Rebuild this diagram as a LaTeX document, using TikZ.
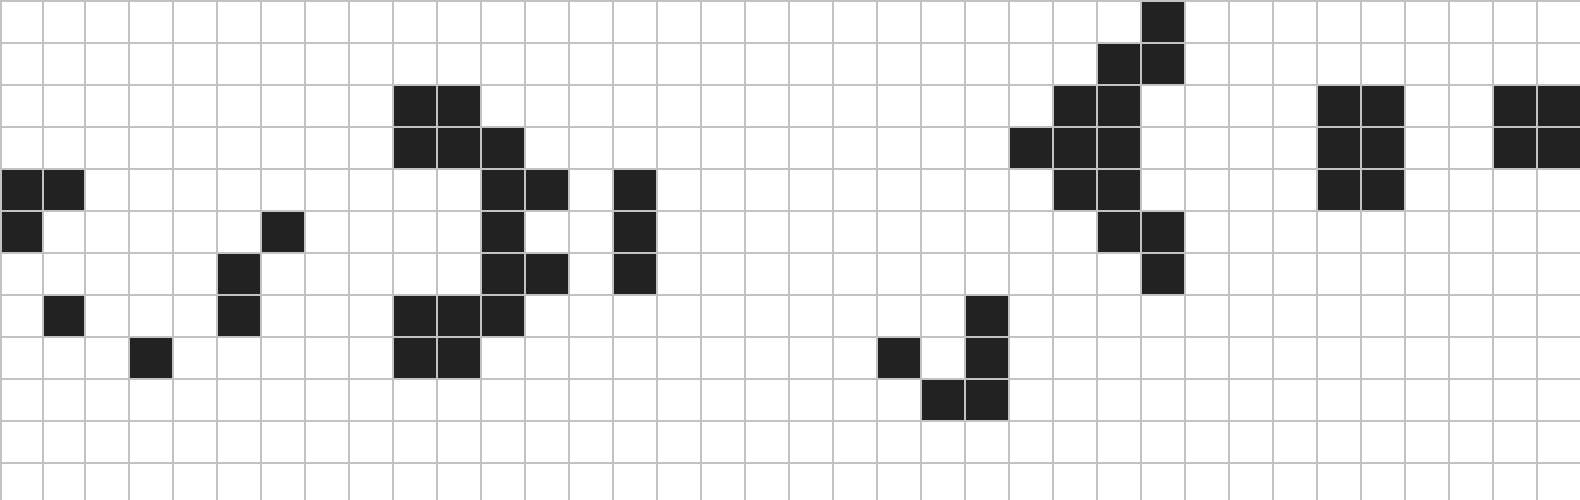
\documentclass[tikz,border=0pt]{standalone}
\usepackage{xcolor}
\usepackage{tikz}

\definecolor{gridline}{HTML}{C2C2C2}
\definecolor{livecell}{HTML}{222222}

\begin{document}
\begin{tikzpicture}[x=0.02cm, y=-0.02cm,
    gridstroke/.style={draw=gridline, line width=1.05pt},
    alive/.style={fill=livecell}]
    \useasboundingbox (0,0) rectangle (1580,500);
    \fill[white] (0,0) rectangle (1580,500);

    % live cells, row / columns
    \foreach \r/\cols in {0/{26}, 1/{25,26}, 2/{9,10,24,25,30,31,34,35},
        3/{9,10,11,23,24,25,30,31,34,35}, 4/{0,1,11,12,14,24,25,30,31},
        5/{0,6,11,14,25,26}, 6/{5,11,12,14,26}, 7/{1,5,9,10,11,22},
        8/{3,9,10,20,22}, 9/{21,22}} {
        \foreach \c in \cols {
            \pgfmathsetmacro{\xa}{44*\c-3.3+2*max(0,2-\c)}
            \pgfmathsetmacro{\xb}{44*(\c+1)-3.3+2*max(0,1-\c)}
            \fill[alive] (\xa,0.7+42*\r) rectangle (\xb,42.7+42*\r);
        }
    }

    % grid
    \foreach \c in {0,...,35} {
        \pgfmathsetmacro{\xl}{44*\c-3.3+2*max(0,2-\c)}
        \draw[gridstroke] (\xl,0) -- (\xl,500);
    }
    \foreach \r in {0,...,11}
        \draw[gridstroke] (0,0.7+42*\r) -- (1580,0.7+42*\r);
\end{tikzpicture}
\end{document}
